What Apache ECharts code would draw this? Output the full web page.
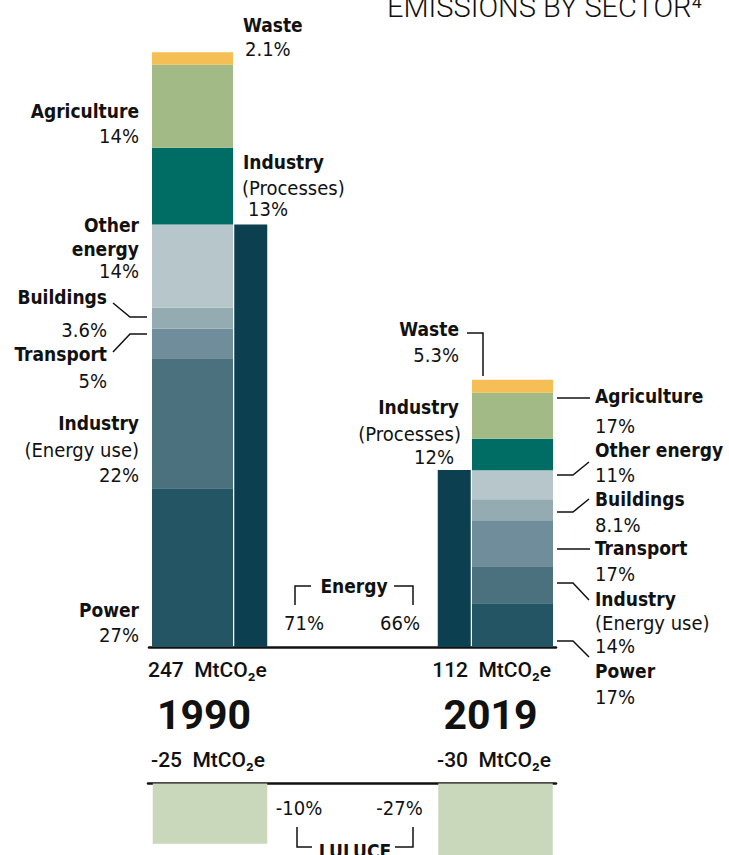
<!DOCTYPE html>
<html>
<head>
<meta charset="utf-8">
<script src="https://cdn.jsdelivr.net/npm/echarts@6/dist/echarts.min.js"></script>
<style>
html,body{margin:0;padding:0;background:#fff;}
#chart{width:729px;height:855px;}
</style>
</head>
<body>
<div id="chart"></div>
<script>
// ---- data (MtCO2e) ----
const years = ['1990', '2019'];
const power = [65.9, 18.2];
const industryEnergy = [53.9, 15.3];
const transport = [12.4, 19.1];
const buildings = [8.7, 8.7];
const otherEnergy = [34.4, 12.0];
const industryProcesses = [31.9, 13.1];
const agriculture = [34.4, 19.1];
const waste = [5.2, 5.4];
const energyTotal = [175.3, 73.4];
const lulucf = [-25, -30];
const totalLabels = ['247', '112'];
const lulucfTotalLabels = ['-25', '-30'];
// ---- share labels ----
const pctPower = ['27%', '17%'];
const pctIndustryEnergy = ['22%', '14%'];
const pctTransport = ['5%', '17%'];
const pctBuildings = ['3.6%', '8.1%'];
const pctOtherEnergy = ['14%', '11%'];
const pctIndustryProcesses = ['13%', '12%'];
const pctAgriculture = ['14%', '17%'];
const pctWaste = ['2.1%', '5.3%'];
const pctEnergy = ['71%', '66%'];
const pctLulucf = ['-10%', '-27%'];
const unit = 'MtCO\u2082e';

const colors = {
  power: '#235565', industryEnergy: '#4A717D', transport: '#6F8D9A', buildings: '#93ABB1',
  otherEnergy: '#B7C6CA', industryProcesses: '#006D64', agriculture: '#A2BA85', waste: '#F6BF55',
  energy: '#0C4050', lulucf: '#C9D7BB'
};

const LF = "'DejaVu Sans Condensed', 'Liberation Sans Narrow', 'Roboto Condensed', sans-serif";
const NF = "Roboto, 'Noto Sans', sans-serif";
const INK = '#111111';

const chart = echarts.init(document.getElementById('chart'), null, {renderer: 'svg'});

const pxPerUnit = 2.41;
const topBottom = 208;          // baseline at y=647
const topMax = 250;
const topHeight = topMax * pxPerUnit;
const lulTop = 783.5;
const lulHeight = 855 - lulTop;
const lulMin = -lulHeight / pxPerUnit;

function stackSeries(name, vals, color) {
  return {
    name: name, type: 'bar', stack: 'sectors', xAxisIndex: 0, yAxisIndex: 0,
    barWidth: 81, data: vals, itemStyle: {color: color}, silent: true
  };
}

function txt(x, y, s, o) {
  o = o || {};
  return {
    type: 'text', x: x, y: y, silent: true,
    style: {
      text: s, fill: INK,
      fontFamily: o.family || LF, fontSize: o.size || 20, fontWeight: o.weight || 'normal',
      align: o.align || 'left', verticalAlign: 'middle'
    }
  };
}
function bold(x, y, s, align) { return txt(x, y, s, {weight: 'bold', size: 19, align: align}); }
function reg(x, y, s, align) { return txt(x, y, s, {size: 20, align: align}); }
function line(points) {
  return {type: 'polyline', silent: true, shape: {points: points}, style: {stroke: INK, lineWidth: 1.5, fill: null}};
}

const graphics = [
  // title
  txt(387, 7, 'EMISSIONS BY SECTOR\u2074', {family: NF, size: 29, weight: 300}),
  // 1990 left labels
  bold(139, 111, 'Agriculture', 'right'), reg(139, 135.5, pctAgriculture[0], 'right'),
  bold(139, 225, 'Other', 'right'), bold(139, 249, 'energy', 'right'), reg(139, 271, pctOtherEnergy[0], 'right'),
  bold(107, 297, 'Buildings', 'right'), reg(107, 330, pctBuildings[0], 'right'),
  bold(107, 354, 'Transport', 'right'), reg(107, 381, pctTransport[0], 'right'),
  bold(139, 423, 'Industry', 'right'), reg(139, 450, '(Energy use)', 'right'), reg(139, 475, pctIndustryEnergy[0], 'right'),
  bold(139, 610, 'Power', 'right'), reg(139, 635, pctPower[0], 'right'),
  line([[113, 303], [130, 317], [147, 317]]),
  line([[113, 352], [130, 334], [147, 334]]),
  // 1990 right labels
  bold(243, 25, 'Waste', 'left'), reg(245, 49, pctWaste[0], 'left'),
  bold(243, 162, 'Industry', 'left'), reg(242, 188, '(Processes)', 'left'), reg(248, 209, pctIndustryProcesses[0], 'left'),
  // Energy group
  bold(354, 586, 'Energy', 'center'),
  line([[295, 605], [295, 586], [311, 586]]),
  line([[394, 586], [413, 586], [413, 605]]),
  reg(304, 623, pctEnergy[0], 'center'), reg(400, 623, pctEnergy[1], 'center'),
  // LULUCF group
  reg(299, 808, pctLulucf[0], 'center'), reg(399.5, 808, pctLulucf[1], 'center'),
  bold(355, 851, 'LULUCF', 'center'),
  line([[297, 827], [297, 847], [312, 847]]),
  line([[395, 847], [413, 847], [413, 827]]),
  // 2019 left labels
  bold(459, 328.5, 'Waste', 'right'), reg(459, 355, pctWaste[1], 'right'),
  line([[467, 333], [483, 333], [483, 376]]),
  bold(459, 406.5, 'Industry', 'right'), reg(461, 434, '(Processes)', 'right'), reg(454, 456.5, pctIndustryProcesses[1], 'right'),
  // 2019 right labels
  bold(595, 395.5, 'Agriculture', 'left'), reg(595, 426, pctAgriculture[1], 'left'),
  bold(595, 450, 'Other energy', 'left'), reg(595, 475, pctOtherEnergy[1], 'left'),
  bold(595, 499, 'Buildings', 'left'), reg(595, 525, pctBuildings[1], 'left'),
  bold(595, 547.5, 'Transport', 'left'), reg(595, 574, pctTransport[1], 'left'),
  bold(595, 598.5, 'Industry', 'left'), reg(595, 623, '(Energy use)', 'left'), reg(595, 646, pctIndustryEnergy[1], 'left'),
  bold(595, 671, 'Power', 'left'), reg(595, 697, pctPower[1], 'left'),
  line([[557, 398], [590, 398]]),
  line([[557, 475], [573, 475], [589, 462]]),
  line([[557, 512], [573, 512], [589, 499]]),
  line([[557, 549], [590, 549]]),
  line([[557, 583], [573, 583], [589, 600]]),
  line([[557, 641], [573, 641], [589, 657]]),
  // totals & years
  txt(148, 669.5, totalLabels[0] + '  ' + unit, {family: NF, size: 21, weight: 500}),
  txt(551, 669.5, totalLabels[1] + '  ' + unit, {family: NF, size: 21, weight: 500, align: 'right'}),
  txt(204, 715, years[0], {family: NF, size: 41, weight: 'bold', align: 'center'}),
  txt(490.5, 715, years[1], {family: NF, size: 41, weight: 'bold', align: 'center'}),
  txt(151, 760, lulucfTotalLabels[0] + '  ' + unit, {family: NF, size: 21, weight: 500}),
  txt(551, 760, lulucfTotalLabels[1] + '  ' + unit, {family: NF, size: 21, weight: 500, align: 'right'})
];

const hiddenX = {type: 'category', data: years, axisLine: {show: false}, axisTick: {show: false}, axisLabel: {show: false}, splitLine: {show: false}};
const hiddenY = {type: 'value', axisLine: {show: false}, axisTick: {show: false}, axisLabel: {show: false}, splitLine: {show: false}};
const baseX = {type: 'category', data: years, axisLine: {show: true, onZero: true, lineStyle: {color: INK, width: 2.5}}, axisTick: {show: false}, axisLabel: {show: false}, splitLine: {show: false}};

const option = {
  backgroundColor: '#ffffff',
  animation: false,
  grid: [
    {left: 32.5, width: 640, bottom: topBottom, height: topHeight},   // sector stacks
    {left: 149, width: 407, bottom: topBottom, height: topHeight},    // energy bars + baseline
    {left: 67.25, width: 571, top: lulTop, height: lulHeight},        // LULUCF bars
    {left: 148, width: 408, top: lulTop, height: lulHeight}           // LULUCF baseline
  ],
  xAxis: [
    Object.assign({gridIndex: 0}, hiddenX),
    Object.assign({gridIndex: 1}, baseX),
    Object.assign({gridIndex: 2}, hiddenX),
    Object.assign({gridIndex: 3}, baseX)
  ],
  yAxis: [
    Object.assign({gridIndex: 0, min: 0, max: topMax}, hiddenY),
    Object.assign({gridIndex: 1, min: 0, max: topMax}, hiddenY),
    Object.assign({gridIndex: 2, min: lulMin, max: 0}, hiddenY),
    Object.assign({gridIndex: 3, min: lulMin, max: 0}, hiddenY)
  ],
  series: [
    stackSeries('Power', power, colors.power),
    stackSeries('Industry (Energy use)', industryEnergy, colors.industryEnergy),
    stackSeries('Transport', transport, colors.transport),
    stackSeries('Buildings', buildings, colors.buildings),
    stackSeries('Other energy', otherEnergy, colors.otherEnergy),
    stackSeries('Industry (Processes)', industryProcesses, colors.industryProcesses),
    stackSeries('Agriculture', agriculture, colors.agriculture),
    stackSeries('Waste', waste, colors.waste),
    {name: 'Energy', type: 'bar', xAxisIndex: 1, yAxisIndex: 1, barWidth: 33, data: energyTotal,
     itemStyle: {color: colors.energy}, silent: true, z: 1},
    {name: 'LULUCF', type: 'bar', xAxisIndex: 2, yAxisIndex: 2, barWidth: 114.5, data: lulucf,
     itemStyle: {color: colors.lulucf}, silent: true, clip: false},
    {name: 'LULUCF base', type: 'bar', xAxisIndex: 3, yAxisIndex: 3, data: [], silent: true}
  ],
  graphic: graphics
};
chart.setOption(option);
</script>
</body>
</html>
